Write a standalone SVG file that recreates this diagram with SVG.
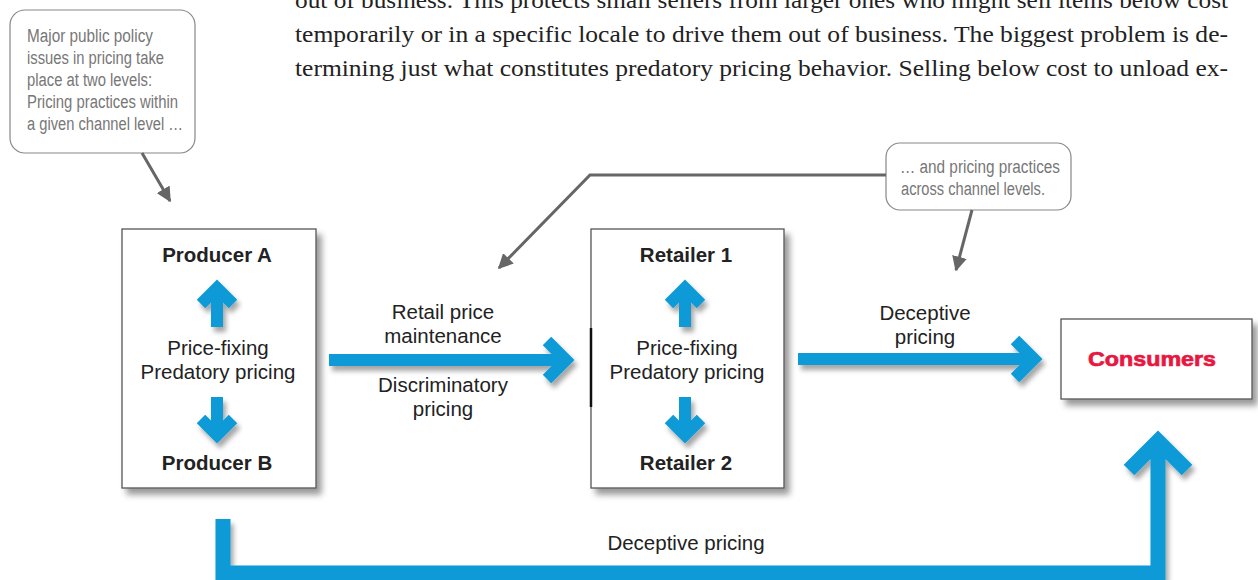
<svg xmlns="http://www.w3.org/2000/svg" width="1258" height="580" viewBox="0 0 1258 580">
<defs>
<filter id="sh" x="-20%" y="-20%" width="150%" height="150%">
<feDropShadow dx="5" dy="6" stdDeviation="3" flood-color="#000" flood-opacity="0.4"/>
</filter>
<filter id="ash" x="-20%" y="-40%" width="150%" height="200%">
<feDropShadow dx="3" dy="5" stdDeviation="2.5" flood-color="#000" flood-opacity="0.35"/>
</filter>
<marker id="gh" viewBox="0 0 10 10" refX="9" refY="5" markerWidth="5" markerHeight="5" orient="auto" markerUnits="strokeWidth">
<path d="M0 0 L10 5 L0 10 Z" fill="#666"/>
</marker>
<style>
.body{font-family:"Liberation Serif",serif;font-size:22.5px;fill:#222}
.note{font-family:"Liberation Sans",Arial,sans-serif;font-size:18px;fill:#777}
.callout{fill:#fff;stroke:#888;stroke-width:1.2}
.box{fill:#fff;stroke:#555;stroke-width:1.3}
.t{font-family:"Liberation Sans",Arial,sans-serif;font-size:20.5px;fill:#222;text-anchor:middle}
.b{font-weight:bold}
.blue{fill:none;stroke:#0a9ad6;stroke-width:12;stroke-linejoin:miter;stroke-miterlimit:10}
.gray{fill:none;stroke:#666;stroke-width:3}
</style>
</defs>
<rect width="1258" height="580" fill="#fff"/>

<g id="paragraph">
<text class="body" x="295" y="8" textLength="933" lengthAdjust="spacingAndGlyphs">out of business. This protects small sellers from larger ones who might sell items below cost</text>
<text class="body" x="295" y="42" textLength="933" lengthAdjust="spacingAndGlyphs">temporarily or in a specific locale to drive them out of business. The biggest problem is de-</text>
<text class="body" x="295" y="76" textLength="933" lengthAdjust="spacingAndGlyphs">termining just what constitutes predatory pricing behavior. Selling below cost to unload ex-</text>
</g>

<g id="callout-left">
<rect class="callout" x="10" y="10" width="185" height="143" rx="15"/>
<text class="note" x="27" y="42" textLength="126" lengthAdjust="spacingAndGlyphs">Major public policy</text>
<text class="note" x="27" y="64" textLength="137" lengthAdjust="spacingAndGlyphs">issues in pricing take</text>
<text class="note" x="27" y="86" textLength="125" lengthAdjust="spacingAndGlyphs">place at two levels:</text>
<text class="note" x="27" y="108" textLength="151" lengthAdjust="spacingAndGlyphs">Pricing practices within</text>
<text class="note" x="27" y="130" textLength="156" lengthAdjust="spacingAndGlyphs">a given channel level …</text>
</g>

<g id="callout-right">
<rect class="callout" x="886" y="143" width="185" height="67" rx="14"/>
<text class="note" x="900" y="173" textLength="160" lengthAdjust="spacingAndGlyphs">… and pricing practices</text>
<text class="note" x="901" y="195" textLength="144" lengthAdjust="spacingAndGlyphs">across channel levels.</text>
</g>

<g id="producers">
<rect class="box" x="122" y="229" width="194" height="259" filter="url(#sh)"/>
<text class="t b" x="217" y="262">Producer A</text>
<g filter="url(#ash)">
<path class="blue" d="M217 327 V292 M201 304 L217 288 L233 304"/>
<path class="blue" d="M217 397 V431 M201 419 L217 435 L233 419"/>
</g>
<text class="t" x="218" y="355">Price-fixing</text>
<text class="t" x="218" y="379">Predatory pricing</text>
<text class="t b" x="217" y="470">Producer B</text>
</g>

<g id="retailers">
<rect class="box" x="591" y="229" width="193" height="259" filter="url(#sh)"/>
<line x1="591" y1="328" x2="591" y2="407" stroke="#111" stroke-width="2.5"/>
<text class="t b" x="686" y="262">Retailer 1</text>
<g filter="url(#ash)">
<path class="blue" d="M685 327 V292 M669 304 L685 288 L701 304"/>
<path class="blue" d="M685 397 V431 M669 419 L685 435 L701 419"/>
</g>
<text class="t" x="687" y="355">Price-fixing</text>
<text class="t" x="687" y="379">Predatory pricing</text>
<text class="t b" x="686" y="470">Retailer 2</text>
</g>

<g id="consumers">
<rect class="box" x="1061" y="319" width="191" height="80" filter="url(#sh)"/>
<text x="1152" y="366" text-anchor="middle" font-family="'Liberation Sans',Arial,sans-serif" font-size="21" font-weight="bold" fill="#e8173f" stroke="#e8173f" stroke-width="0.7" textLength="128" lengthAdjust="spacingAndGlyphs">Consumers</text>
</g>

<g id="connectors">
<g filter="url(#ash)">
<path class="blue" d="M329 360 H562 M547 341 L566 360 L547 379"/>
<path class="blue" d="M798 359 H1030 M1015 340 L1034 359 L1015 378"/>
<path class="blue" style="stroke-width:15" d="M223 519 V573 H1158 V445 M1129 470 L1158 441 L1187 470"/>
</g>
<path class="gray" d="M142 153 L170 201" marker-end="url(#gh)"/>
<path class="gray" d="M886 175 H590 L499 268" marker-end="url(#gh)"/>
<path class="gray" d="M972 210 L956 270" marker-end="url(#gh)"/>
</g>

<g id="labels">
<text class="t" x="443" y="319">Retail price</text>
<text class="t" x="443" y="343">maintenance</text>
<text class="t" x="443" y="392">Discriminatory</text>
<text class="t" x="443" y="416">pricing</text>
<text class="t" x="925" y="320">Deceptive</text>
<text class="t" x="925" y="344">pricing</text>
<text class="t" x="686" y="550">Deceptive pricing</text>
</g>
</svg>
